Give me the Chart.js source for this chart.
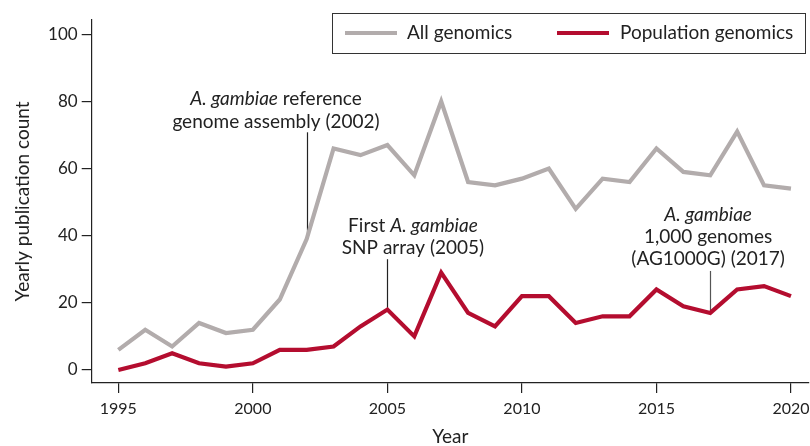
<!DOCTYPE html>
<html>
<head>
<meta charset="utf-8">
<script src="https://cdn.jsdelivr.net/npm/chart.js@4/dist/chart.umd.min.js"></script>
<style>
  html, body { margin: 0; padding: 0; background: #fff; }
  #wrap { width: 810px; height: 446px; position: relative; }
</style>
</head>
<body>
<div id="wrap"><canvas id="chart"></canvas></div>
<script>
// Yearly publication counts on Anopheles gambiae genomics
const years = [1995, 1996, 1997, 1998, 1999, 2000, 2001, 2002, 2003, 2004, 2005, 2006, 2007,
               2008, 2009, 2010, 2011, 2012, 2013, 2014, 2015, 2016, 2017, 2018, 2019, 2020];
const allGenomics = [6, 12, 7, 14, 11, 12, 21, 39, 66, 64, 67, 58, 80,
                     56, 55, 57, 60, 48, 57, 56, 66, 59, 58, 71, 55, 54];
const populationGenomics = [0, 2, 5, 2, 1, 2, 6, 6, 7, 13, 18, 10, 29,
                            17, 13, 22, 22, 14, 16, 16, 24, 19, 17, 24, 25, 22];
const xTicks = [1995, 2000, 2005, 2010, 2015, 2020];
const yTicks = [0, 20, 40, 60, 80, 100];
const seriesNames = ['All genomics', 'Population genomics'];

// Milestones marked on the chart
const milestoneYears = [2002, 2005, 2017];
const milestoneSeries = [0, 1, 1];
const milestoneText = [
  [[['A. gambiae', true], [' reference', false]], [['genome assembly (2002)', false]]],
  [[['First ', false], ['A. gambiae', true]], [['SNP array (2005)', false]]],
  [[['A. gambiae', true]], [['1,000 genomes', false]], [['(AG1000G) (2017)', false]]]
];

const GREY = '#b2acac';
const RED = '#b40d2f';
const INK = '#222222';
const TEXT_FONT = 'Lato, "Open Sans", sans-serif';
const TEXT_SIZE = 19;

const toPoints = (vals) => vals.map((v, i) => ({ x: years[i], y: v }));

// Label layout for each milestone, in data units (centre year, line values, leader top)
const milestoneLayout = [
  { cx: 2000.86, lines: [80.7, 73.8], leaderTop: 70.8, leaderColor: '#222' },
  { cx: 2005.95, lines: [42.9, 36.3], leaderTop: 33.0, leaderColor: '#222' },
  { cx: 2016.92, lines: [46.1, 39.6, 33.0], leaderTop: 29.5, leaderColor: '#555' }
];

function drawRichLine(ctx, segs, cx, cy, size) {
  const fontFor = (it) => (it ? 'italic ' : '') + size + 'px ' + TEXT_FONT;
  let total = 0;
  const widths = segs.map(([t, it]) => { ctx.font = fontFor(it); const w = ctx.measureText(t).width; total += w; return w; });
  let x = cx - total / 2;
  segs.forEach(([t, it], k) => {
    ctx.font = fontFor(it);
    ctx.fillText(t, x, cy);
    x += widths[k];
  });
}

const milestonePlugin = {
  id: 'milestones',
  beforeDatasetsDraw(chart) {
    const { ctx, scales: { x, y } } = chart;
    ctx.save();
    milestoneYears.forEach((yr, i) => {
      const series = milestoneSeries[i] === 0 ? allGenomics : populationGenomics;
      const v = series[years.indexOf(yr)];
      const px = Math.round(x.getPixelForValue(yr)) + 0.5;
      ctx.strokeStyle = milestoneLayout[i].leaderColor;
      ctx.lineWidth = 1.2;
      ctx.beginPath();
      ctx.moveTo(px, y.getPixelForValue(v));
      ctx.lineTo(px, y.getPixelForValue(milestoneLayout[i].leaderTop));
      ctx.stroke();
    });
    ctx.restore();
  },
  afterDraw(chart) {
    const { ctx, scales: { x, y } } = chart;
    ctx.save();
    ctx.fillStyle = INK;
    ctx.textBaseline = 'middle';
    ctx.textAlign = 'left';
    milestoneText.forEach((lines, i) => {
      const L = milestoneLayout[i];
      const cx = x.getPixelForValue(L.cx);
      lines.forEach((segs, j) => {
        drawRichLine(ctx, segs, cx, y.getPixelForValue(L.lines[j]), TEXT_SIZE);
      });
    });
    ctx.restore();
  }
};

// Framed legend across the top right
const legendPlugin = {
  id: 'framedLegend',
  afterDraw(chart) {
    const { ctx } = chart;
    ctx.save();
    ctx.strokeStyle = '#333';
    ctx.lineWidth = 1;
    ctx.strokeRect(332.5, 13.5, 473, 40);
    const items = [
      { name: seriesNames[0], color: GREY, x0: 345, x1: 397, tx: 407 },
      { name: seriesNames[1], color: RED, x0: 557, x1: 609, tx: 620 }
    ];
    ctx.textBaseline = 'middle';
    ctx.textAlign = 'left';
    ctx.font = TEXT_SIZE + 'px ' + TEXT_FONT;
    items.forEach(it => {
      ctx.strokeStyle = it.color;
      ctx.lineWidth = 4;
      ctx.beginPath();
      ctx.moveTo(it.x0, 33);
      ctx.lineTo(it.x1, 33);
      ctx.stroke();
      ctx.fillStyle = INK;
      ctx.fillText(it.name, it.tx, 33);
    });
    ctx.restore();
  }
};

new Chart(document.getElementById('chart'), {
  type: 'line',
  data: {
    datasets: [
      { label: seriesNames[0], data: toPoints(allGenomics), borderColor: GREY, borderWidth: 4.2,
        pointRadius: 0, tension: 0, borderJoinStyle: 'miter', order: 2 },
      { label: seriesNames[1], data: toPoints(populationGenomics), borderColor: RED, borderWidth: 4.2,
        pointRadius: 0, tension: 0, borderJoinStyle: 'miter', order: 1 }
    ]
  },
  options: {
    responsive: true,
    maintainAspectRatio: false,
    animation: false,
    layout: { padding: { top: 20, right: 1, left: 0, bottom: 0 } },
    plugins: { legend: { display: false }, tooltip: { enabled: false } },
    scales: {
      x: {
        type: 'linear',
        min: 1994.01,
        max: 2020.67,
        afterBuildTicks: (s) => { s.ticks = xTicks.map(v => ({ value: v })); },
        afterFit: (s) => { s.height = 63; s.paddingLeft = 0; s.paddingRight = 0; },
        grid: { drawOnChartArea: false, drawTicks: true, tickLength: 10, color: INK, lineWidth: 1.2 },
        border: { display: true, color: INK, width: 1.2 },
        ticks: { color: INK, padding: 6, maxRotation: 0, autoSkip: false,
                 font: { family: TEXT_FONT, size: 16 },
                 callback: (v) => String(v) },
        title: { display: true, text: 'Year', color: INK, padding: { top: 0, bottom: -2 },
                 font: { family: TEXT_FONT, size: TEXT_SIZE } }
      },
      y: {
        type: 'linear',
        min: -3.87,
        max: 104.25,
        afterBuildTicks: (s) => { s.ticks = yTicks.map(v => ({ value: v })); },
        afterFit: (s) => { s.width = 91.7; s.paddingTop = 0; s.paddingBottom = 0; },
        grid: { drawOnChartArea: false, drawTicks: true, tickLength: 10, color: INK, lineWidth: 1.2 },
        border: { display: true, color: INK, width: 1.2 },
        ticks: { color: INK, padding: 4, font: { family: TEXT_FONT, size: 17 } },
        title: { display: true, text: 'Yearly publication count', color: INK,
                 padding: { top: 11, bottom: 0 }, font: { family: TEXT_FONT, size: TEXT_SIZE } }
      }
    }
  },
  plugins: [milestonePlugin, legendPlugin]
});
</script>
</body>
</html>
